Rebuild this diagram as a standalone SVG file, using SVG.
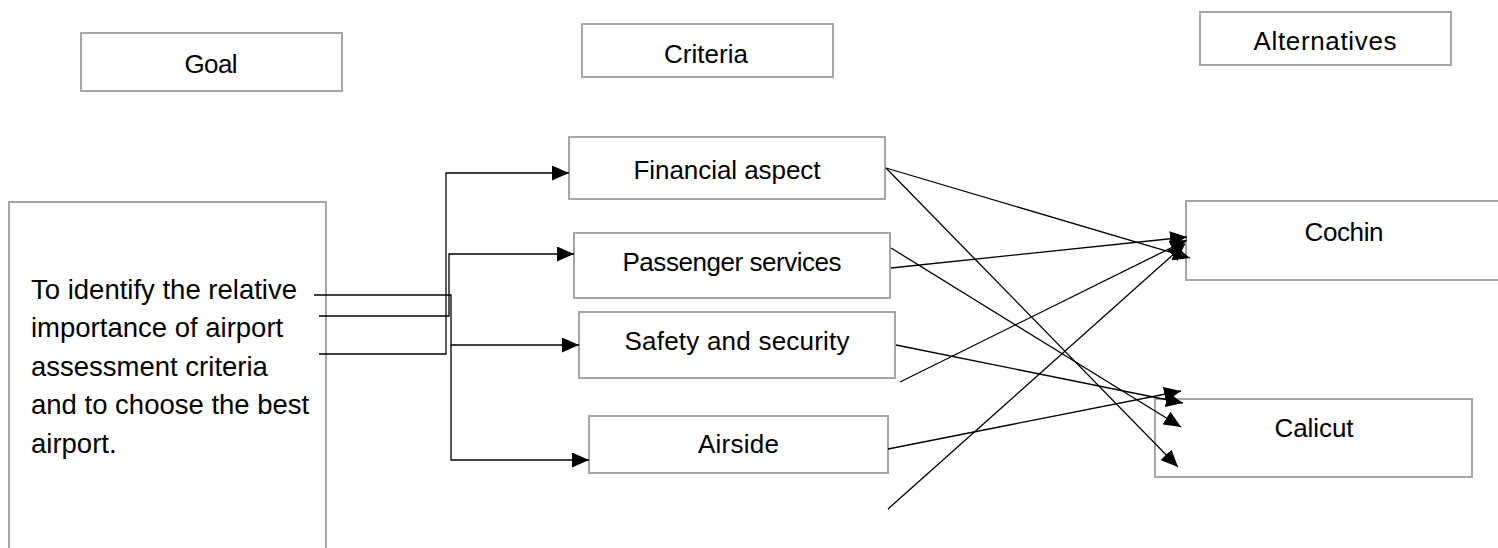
<svg xmlns="http://www.w3.org/2000/svg" width="1498" height="548" viewBox="0 0 1498 548">
<style>
.box{fill:#fff;stroke:#a6a6a6;stroke-width:2}
.lbl{font-family:"Liberation Sans",Arial,sans-serif;font-size:26px;fill:#000;text-anchor:middle}
.goal{font-family:"Liberation Sans",Arial,sans-serif;font-size:27.5px;fill:#000}
.c{fill:none;stroke:#000;stroke-width:1.3}
</style>
<defs>
<marker id="ah" markerUnits="userSpaceOnUse" viewBox="0 0 17 15" markerWidth="17" markerHeight="15" refX="17" refY="7.5" orient="auto">
<path d="M0,0 L17,7.5 L0,15 Z" fill="#000"/>
</marker>
</defs>
<rect width="1498" height="548" fill="#fff"/>
<g id="hdr-goal"><rect class="box" x="81" y="33" width="261" height="58"/><text class="lbl" x="211" y="73" textLength="53">Goal</text></g>
<g id="hdr-criteria"><rect class="box" x="582" y="24" width="251" height="53"/><text class="lbl" x="706" y="63" textLength="84">Criteria</text></g>
<g id="hdr-alternatives"><rect class="box" x="1200" y="12" width="251" height="53"/><text class="lbl" x="1325" y="50" textLength="143">Alternatives</text></g>
<g id="goal"><rect class="box" x="9" y="202" width="317" height="380"/>
<text class="goal" x="31" y="299">To identify the relative</text>
<text class="goal" x="31" y="337">importance of airport</text>
<text class="goal" x="31" y="376">assessment criteria</text>
<text class="goal" x="31" y="414">and to choose the best</text>
<text class="goal" x="31" y="453">airport.</text>
</g>
<g id="financial"><rect class="box" x="569" y="137" width="316" height="62"/><text class="lbl" x="727" y="179" textLength="187">Financial aspect</text></g>
<g id="passenger"><rect class="box" x="574" y="233" width="316" height="65"/><text class="lbl" x="732" y="271" textLength="219">Passenger services</text></g>
<g id="safety"><rect class="box" x="579" y="312" width="316" height="66"/><text class="lbl" x="737" y="350" textLength="225">Safety and security</text></g>
<g id="airside"><rect class="box" x="589" y="416" width="299" height="57"/><text class="lbl" x="738.5" y="453" textLength="81">Airside</text></g>
<g id="cochin"><rect class="box" x="1186" y="201" width="320" height="79"/><text class="lbl" x="1344" y="241" textLength="79">Cochin</text></g>
<g id="calicut"><rect class="box" x="1155" y="399" width="317" height="78"/><text class="lbl" x="1314" y="437" textLength="79">Calicut</text></g>
<g id="connectors">
<polyline class="c" points="319,354 446,354 446,173 569,173" marker-end="url(#ah)"/>
<polyline class="c" points="319,316 449,316 449,254 574,254" marker-end="url(#ah)"/>
<polyline class="c" points="314,295 451,295 451,345 579,345" marker-end="url(#ah)"/>
<polyline class="c" points="451,345 451,460 589,460" marker-end="url(#ah)"/>
<line class="c" x1="886" y1="168" x2="1190" y2="258" marker-end="url(#ah)"/>
<line class="c" x1="886" y1="168" x2="1178" y2="467" marker-end="url(#ah)"/>
<line class="c" x1="891" y1="248" x2="1181" y2="427" marker-end="url(#ah)"/>
<line class="c" x1="891" y1="268" x2="1187" y2="237" marker-end="url(#ah)"/>
<line class="c" x1="896" y1="345" x2="1183" y2="403" marker-end="url(#ah)"/>
<line class="c" x1="900" y1="382" x2="1187" y2="240" marker-end="url(#ah)"/>
<line class="c" x1="888" y1="449" x2="1181" y2="391" marker-end="url(#ah)"/>
<line class="c" x1="888" y1="509" x2="1185" y2="244" marker-end="url(#ah)"/>
</g>
</svg>
